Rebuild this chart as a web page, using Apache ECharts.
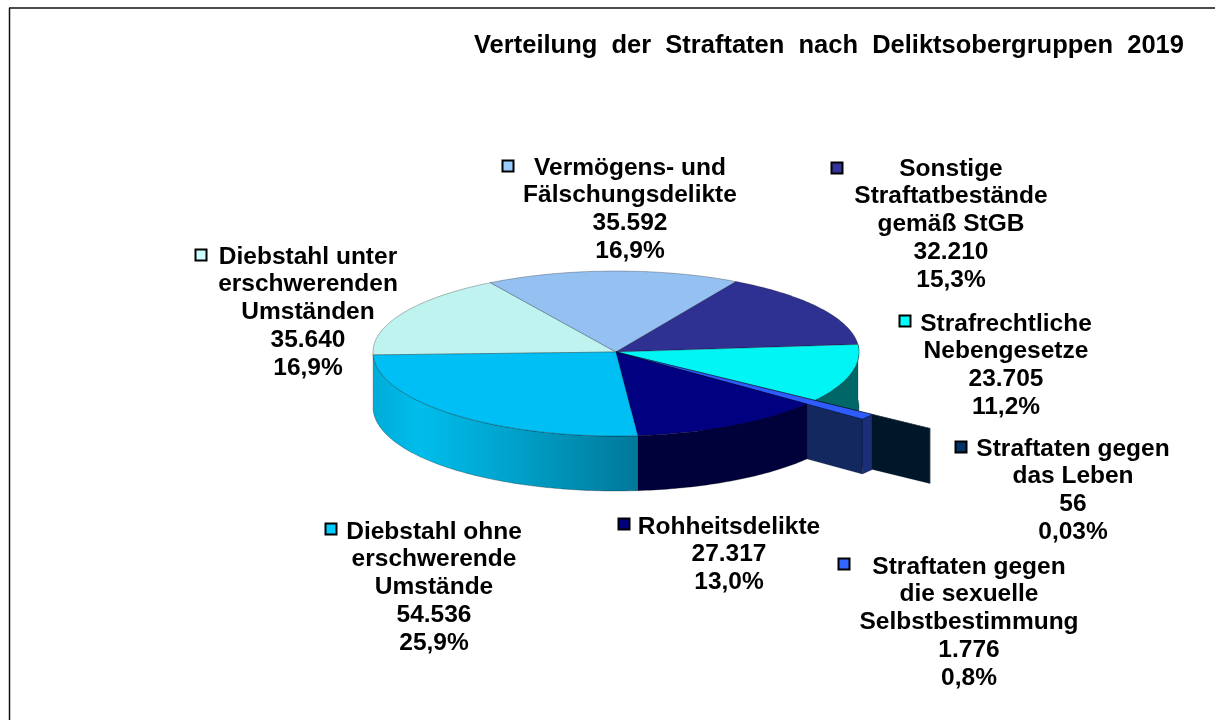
<!DOCTYPE html>
<html lang="de">
<head>
<meta charset="utf-8">
<title>Verteilung der Straftaten</title>
<style>html,body{margin:0;padding:0;background:#fff}#chart{width:1215px;height:720px}</style>
<script src="https://cdn.jsdelivr.net/npm/echarts@6/dist/echarts.min.js"></script>
</head>
<body>
<div id="chart"></div>
<script>
const titleText = 'Verteilung  der  Straftaten  nach  Deliktsobergruppen  2019';
const categories = [
  ['Diebstahl unter', 'erschwerenden', 'Umständen'],
  ['Vermögens- und', 'Fälschungsdelikte'],
  ['Sonstige', 'Straftatbestände', 'gemäß StGB'],
  ['Strafrechtliche', 'Nebengesetze'],
  ['Straftaten gegen', 'das Leben'],
  ['Straftaten gegen', 'die sexuelle', 'Selbstbestimmung'],
  ['Rohheitsdelikte'],
  ['Diebstahl ohne', 'erschwerende', 'Umstände']
];
const values = [35640, 35592, 32210, 23705, 56, 1776, 27317, 54536];
const valueLabels = ['35.640', '35.592', '32.210', '23.705', '56', '1.776', '27.317', '54.536'];
const percentLabels = ['16,9%', '16,9%', '15,3%', '11,2%', '0,03%', '0,8%', '13,0%', '25,9%'];

const topColors = ['#BFF3F0', '#94C1F2', '#2E3192', '#00F5F5', '#0F3A66', '#2F5CFF', '#000080', '#00BFF5'];
const rimColors = [null, null, null, '#006666', '#00172A', '#1A2F78', '#00003A', 'gradient'];
const radialColors = [null, null, null, null, '#00172A', '#13285F', null, null];
const markerColors = ['#CCFFFF', '#99CCFF', '#333399', '#00FFFF', '#003366', '#3366FF', '#000080', '#00CCFF'];
const explode = [1, 1, 1, 1, 1.58, 1.29, 1, 1];
const rimOrder = [0, 0, 0, 1, 2, 4, 5, 5];
const radialOrder = [0, 0, 0, 0, 2, 3, 0, 0];

const labelCenterX = [308, 630, 951, 1006, 1073, 969, 729, 434];
const labelFirstLineY = [257, 168, 169, 324, 449, 567, 527, 532];
const markerX = [201, 508, 837, 905, 961, 844, 624, 331];
const markerY = [255, 166, 168, 321, 447, 564, 524, 529];

const pie = { cx: 616, cy: 352, rx: 243, ryBack: 81, ryFront: 84, depth: 55, startAngle: 268 };
const LABEL_FONT = 'bold 24.5px "Liberation Sans", Arial, sans-serif';
const LINE_HEIGHT = 27.7;

const total = values.reduce((a, b) => a + b, 0);
function sliceAngles(i) {
  let acc = 0;
  for (let k = 0; k < i; k++) acc += values[k];
  const a = pie.startAngle + acc / total * 360;
  return [a, a + values[i] / total * 360];
}
function pt(deg, f) {
  const t = deg * Math.PI / 180, c = Math.cos(t);
  return [pie.cx + pie.rx * f * Math.sin(t), pie.cy - (c >= 0 ? pie.ryBack : pie.ryFront) * f * c];
}
function arc(a, b, f) {
  const n = Math.max(2, Math.ceil(Math.abs(b - a))), out = [];
  for (let i = 0; i <= n; i++) out.push(pt(a + (b - a) * i / n, f));
  return out;
}
const drop = p => [p[0], p[1] + pie.depth];
const edge = { stroke: 'rgba(0,0,0,0.45)', lineWidth: 0.6 };

function wallFill(c) {
  if (c !== 'gradient') return c;
  return new echarts.graphic.LinearGradient(0, 0, 1, 0, [
    { offset: 0, color: '#00ACD8' }, { offset: 0.18, color: '#00BDEB' },
    { offset: 0.55, color: '#00A0C8' }, { offset: 1, color: '#00789A' }
  ]);
}

function renderItem(params, api) {
  const i = params.dataIndex;
  const [a0, a1] = sliceAngles(i);
  const f = explode[i];
  const children = [];

  if (radialColors[i]) {
    const tip = pt(a1, f), c = [pie.cx, pie.cy];
    children.push({ type: 'polygon', z2: radialOrder[i] * 10,
      shape: { points: [c, tip, drop(tip), drop(c)] },
      style: { fill: radialColors[i], stroke: 'rgba(0,0,0,0.3)', lineWidth: 0.5 } });
  }
  if (rimColors[i]) {
    const top = arc(a0, a1, f);
    const bottom = top.map(drop).reverse();
    children.push({ type: 'polygon', z2: rimOrder[i] * 10 + 1,
      shape: { points: top.concat(bottom) },
      style: Object.assign({ fill: wallFill(rimColors[i]) }, edge) });
  }
  children.push({ type: 'polygon', z2: 70,
    shape: { points: [[pie.cx, pie.cy]].concat(arc(a0, a1, f)) },
    style: Object.assign({ fill: topColors[i] }, edge) });

  children.push({ type: 'rect', z2: 90,
    shape: { x: markerX[i] - 5.5, y: markerY[i] - 5.5, width: 11, height: 11 },
    style: { fill: markerColors[i], stroke: '#000', lineWidth: 2 } });
  const lines = categories[i].concat([valueLabels[i], percentLabels[i]]);
  children.push({ type: 'text', z2: 90,
    style: { text: lines.join('\n'), x: labelCenterX[i], y: labelFirstLineY[i] - LINE_HEIGHT / 2,
      fill: '#000', font: LABEL_FONT, align: 'center', verticalAlign: 'top', lineHeight: LINE_HEIGHT } });

  return { type: 'group', children };
}

const chart = echarts.init(document.getElementById('chart'), null, { renderer: 'canvas' });
chart.setOption({
  animation: false,
  backgroundColor: '#fff',
  title: { text: titleText, left: 469, top: 28,
    textStyle: { fontFamily: '"Liberation Sans", Arial, sans-serif', fontWeight: 'bold', fontSize: 25.5, color: '#000' } },
  graphic: [
    { type: 'line', shape: { x1: 9, y1: 8, x2: 1215, y2: 8 }, style: { stroke: '#111', lineWidth: 1.5 } },
    { type: 'line', shape: { x1: 9.5, y1: 8, x2: 9.5, y2: 720 }, style: { stroke: '#111', lineWidth: 1.5 } }
  ],
  series: [{
    type: 'custom',
    coordinateSystem: 'none',
    renderItem,
    silent: true,
    clip: false,
    data: values.map(v => [v])
  }]
});
</script>
</body>
</html>
